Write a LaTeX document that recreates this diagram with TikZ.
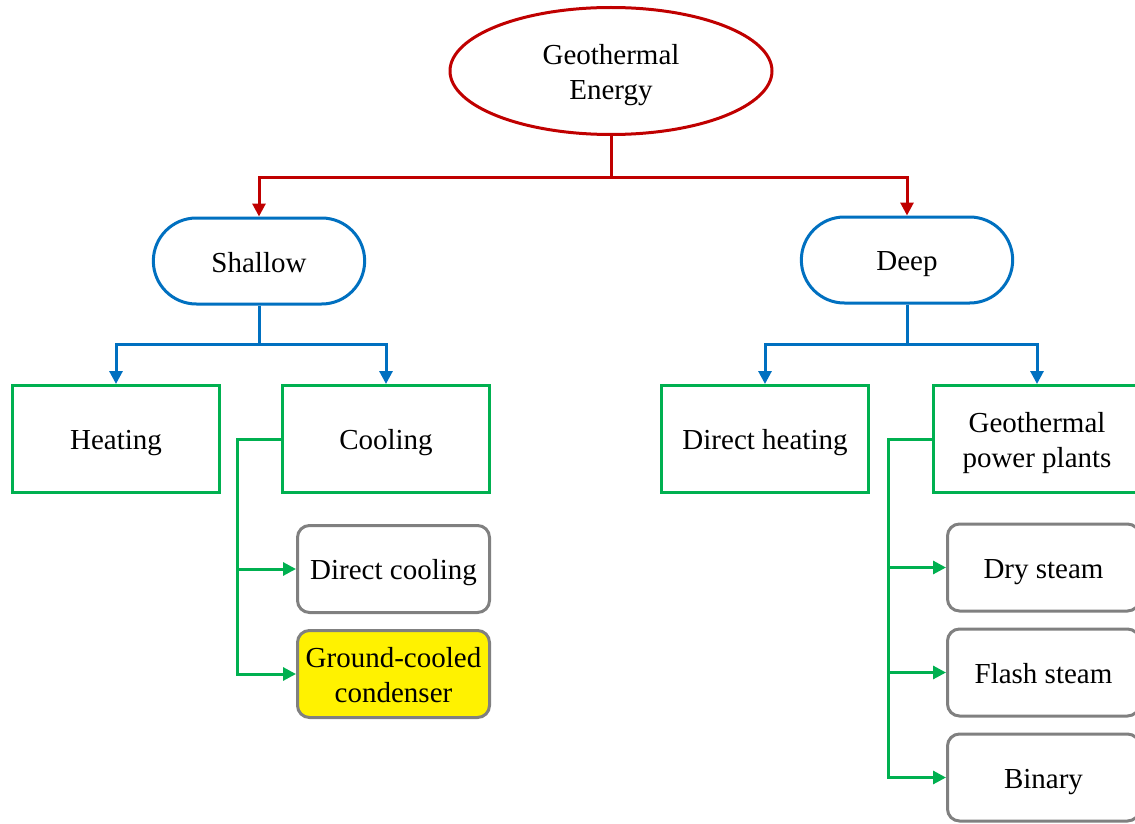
\documentclass[tikz,border=0pt]{standalone}
\usepackage{fontspec}
\setmainfont{Liberation Serif}
\usetikzlibrary{shapes.geometric, shapes.misc, arrows.meta}
\definecolor{geored}{RGB}{192,0,0}
\definecolor{geoblue}{RGB}{0,112,192}
\definecolor{geogreen}{RGB}{0,176,80}
\definecolor{geogray}{RGB}{128,128,128}
\tikzset{every picture/.style={line width=3pt}}
\newcommand{\linestrut}{\rule[-6pt]{0pt}{34pt}}

\begin{document}
\begin{tikzpicture}[x=1pt,y=-1pt,node distance=105pt,font=\fontsize{29}{35}\selectfont,align=center,
    execute at begin node=\linestrut,
    geobox/.style={ellipse, draw=geored, minimum width=322pt, minimum height=127pt},
    pillbox/.style={rounded rectangle, draw=geoblue, minimum width=218pt, minimum height=86pt},
    appbox/.style={rectangle, draw=geogreen, minimum width=207pt, minimum height=107pt},
    techbox/.style={rectangle, rounded corners=12pt, draw=geogray, minimum width=192pt, minimum height=87pt},
    arr/.style={-{Triangle[length=13pt,width=13pt]}}]
        \fill[white] (0,0) rectangle (1135,824);
        \useasboundingbox (0,0) rectangle (1135,824);

        \node[geobox] (geo) at (611,71) {\linestrut Geothermal\\Energy};
        \node[pillbox] (shallow) at (259,261) {Shallow};
        \node[pillbox] (deep) at (907,260) {Deep};
        \node[appbox] (heat) at (116,439) {Heating};
        \node[appbox] (cool) at (386,439) {Cooling};
        \node[appbox] (dheat) at (765,439) {Direct heating};
        \node[appbox] (gpp) at (1037,439) {\linestrut Geothermal\\power plants};
        \node[techbox] (dcool) at (393.5,569) {Direct cooling};
        \node[techbox,fill=yellow,below of=dcool] (gcool) {\linestrut Ground-cooled\\condenser};
        \node[techbox] (dry) at (1043.5,567.5) {Dry steam};
        \node[techbox,below of=dry] (flash) {Flash steam};
        \node[techbox,below of=flash] (bin) {Binary};

        \draw[geored,arr] (geo.south) -- ++(0,41) -| (shallow.north);
        \draw[geored,arr] (geo.south) -- ++(0,41) -| (deep.north);
        \draw[geoblue,arr] (shallow.south) -- ++(0,39) -| (heat.north);
        \draw[geoblue,arr] (shallow.south) -- ++(0,39) -| (cool.north);
        \draw[geoblue,arr] (deep.south) -- ++(0,40) -| (dheat.north);
        \draw[geoblue,arr] (deep.south) -- ++(0,40) -| (gpp.north);
        \draw[geogreen,arr] (cool.west) -- ++(-44,0) |- (dcool.west);
        \draw[geogreen,arr] (cool.west) -- ++(-44,0) |- (gcool.west);
        \draw[geogreen,arr] (gpp.west) -- ++(-44,0) |- (dry.west);
        \draw[geogreen,arr] (gpp.west) -- ++(-44,0) |- (flash.west);
        \draw[geogreen,arr] (gpp.west) -- ++(-44,0) |- (bin.west);
    \end{tikzpicture}
\end{document}
